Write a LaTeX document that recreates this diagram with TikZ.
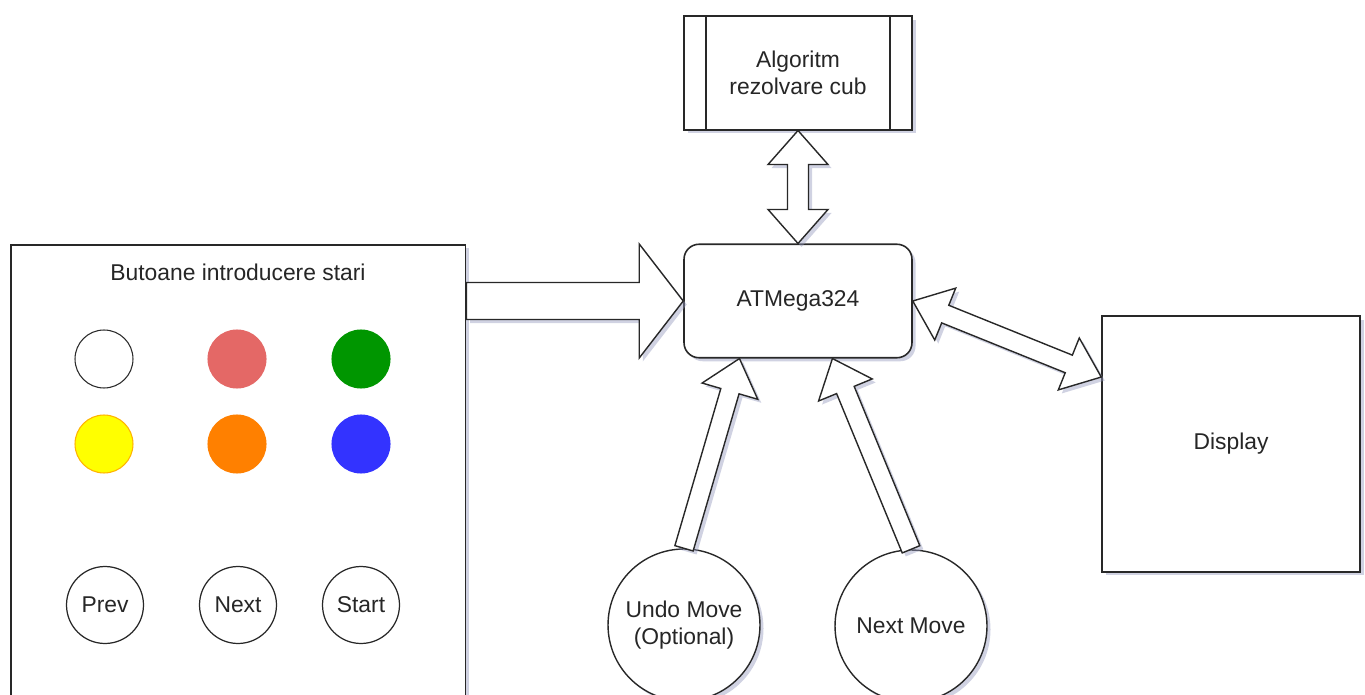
\documentclass[tikz,border=0pt]{standalone}
\usepackage{fontspec}
\setmainfont{Liberation Sans}
\usepackage{tikz}
\usetikzlibrary{positioning, calc, shadows}
\definecolor{linegray}{RGB}{40, 40, 40}
\definecolor{shadowblue}{RGB}{150, 155, 190}
\definecolor{btnred}{RGB}{228, 104, 102}
\definecolor{btngreen}{RGB}{0, 150, 0}
\definecolor{btnyellow}{RGB}{255, 255, 0}
\definecolor{btnorange}{RGB}{255, 128, 0}
\definecolor{btnblue}{RGB}{51, 51, 255}

% block arrow: from, to, half shaft, half head, head length
\newcommand{\onearrow}[5]{%
  \draw[bigarrow] let \p1=(#1), \p2=(#2), \n1={atan2(\y2-\y1,\x2-\x1)}, \n2={veclen(\x2-\x1,\y2-\y1)} in
    [shift={(\p1)}, rotate=\n1]
    (0pt,#3) -- (\n2-#5,#3) -- (\n2-#5,#4) -- (\n2,0pt) -- (\n2-#5,-#4) -- (\n2-#5,-#3) -- (0pt,-#3) -- cycle;}
\newcommand{\twoarrow}[5]{%
  \draw[bigarrow] let \p1=(#1), \p2=(#2), \n1={atan2(\y2-\y1,\x2-\x1)}, \n2={veclen(\x2-\x1,\y2-\y1)} in
    [shift={(\p1)}, rotate=\n1]
    (0pt,0pt) -- (#5,#4) -- (#5,#3) -- (\n2-#5,#3) -- (\n2-#5,#4) -- (\n2,0pt) -- (\n2-#5,-#4) -- (\n2-#5,-#3) -- (#5,-#3) -- (#5,-#4) -- cycle;}

\begin{document}
\begin{tikzpicture}[
    x=0.02cm, y=-0.02cm,
    every node/.style={font=\fontsize{13}{15}\selectfont, text=black!85},
    shadowed/.style={drop shadow={shadow xshift=2pt, shadow yshift=-2pt, opacity=0.45, fill=shadowblue}},
    block/.style={draw=linegray, fill=white, line width=0.9pt, shadowed,
                  minimum width=4.56cm, minimum height=2.27cm, align=center},
    panelbox/.style={draw=linegray, fill=white, line width=0.9pt, shadowed,
                     minimum width=9.1cm, minimum height=10.4cm, anchor=north west},
    dot/.style={circle, minimum size=1.16cm, inner sep=0pt, line width=0.6pt},
    btn/.style={circle, draw=linegray, line width=0.7pt, minimum size=1.54cm, inner sep=0pt},
    bigbtn/.style={circle, draw=linegray, fill=white, line width=0.8pt, shadowed,
                   minimum size=3.04cm, inner sep=0pt, align=center},
    bigarrow/.style={draw=linegray, fill=white, line width=0.8pt, line join=miter, shadowed},
]
    \useasboundingbox (0,0) rectangle (1365,695);
    \clip (0,0) rectangle (1365,695);

    % Button panel
    \node[panelbox] (panel) at (10,244) {};
    \node (title) at (238,272) {Butoane introducere stari};
    \node[dot, draw=linegray, fill=white] (cwhite) at (104,359) {};
    \node[dot, draw=btnred, fill=btnred] (cred) at (237,359) {};
    \node[dot, draw=btngreen, fill=btngreen] (cgreen) at (361,359) {};
    \node[dot, draw=btnorange!60!btnyellow, fill=btnyellow] (cyellow) at (104,444) {};
    \node[dot, draw=btnorange, fill=btnorange] (corange) at (237,444) {};
    \node[dot, draw=btnblue, fill=btnblue] (cblue) at (361,444) {};
    \node[btn] (prev) at (105,605) {Prev};
    \node[btn] (next) at (238,605) {Next};
    \node[btn] (start) at (361,605) {Start};

    % Main blocks
    \node[block] (algo) at (798,73) {Algoritm\\rezolvare cub};
    \draw[line width=0.9pt, draw=linegray] ([xshift=0.46cm]algo.north west) -- ([xshift=0.46cm]algo.south west);
    \draw[line width=0.9pt, draw=linegray] ([xshift=-0.46cm]algo.north east) -- ([xshift=-0.46cm]algo.south east);
    \node[block, rounded corners=0.3cm] (atm) at (798,301) {ATMega324};
    \node[block, minimum width=5.16cm, minimum height=5.12cm] (disp) at (1231,444) {Display};

    % Move buttons
    \node[bigbtn] (undo) at (684,625) {Undo Move\\(Optional)};
    \node[bigbtn] (nextmv) at (911,626) {Next Move};

    % Arrows
    \onearrow{panel.east |- atm.west}{atm.west}{3.7mm}{11.4mm}{8.8mm}
    \twoarrow{algo.south}{atm.north}{2.1mm}{6mm}{6.8mm}
    \twoarrow{atm.east}{$(disp.north west)!0.24!(disp.south west)$}{1.9mm}{5.6mm}{7mm}
    \onearrow{undo.north}{$(atm.south west)!0.245!(atm.south east)$}{1.9mm}{5.8mm}{6.8mm}
    \onearrow{nextmv.north}{$(atm.south west)!0.65!(atm.south east)$}{1.9mm}{5.8mm}{6.8mm}
\end{tikzpicture}
\end{document}
